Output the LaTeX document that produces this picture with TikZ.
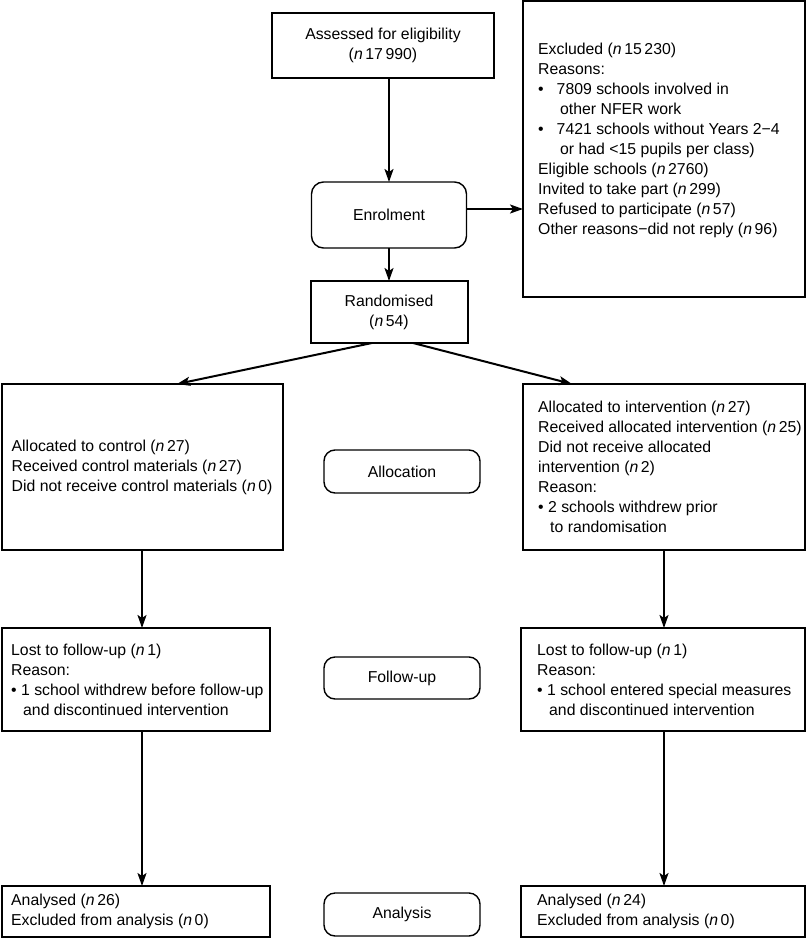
\documentclass[tikz,border=0pt]{standalone}
\usepackage{fontspec}
\setmainfont{Liberation Sans}
\usetikzlibrary{arrows.meta}
\usetikzlibrary{calc}
\newcommand{\flwfnt}{\fontsize{15.8}{20}\selectfont}
\newcommand{\flwn}{\textit{n}\,}
\newcommand{\flwind}{\hspace*{12pt}}
\newcommand{\flwbul}{\textbullet\hspace{13pt}}
\newcommand{\flwindw}{\hspace*{22pt}}
\newcommand{\flwcxl}{142}
\newcommand{\flwcxm}{402}
\newcommand{\flwcxr}{664}
\newcommand{\flwcxt}{389}
\newcommand{\flwrya}{467}
\newcommand{\flwryb}{679.5}
\newcommand{\flwryc}{911.5}

\begin{document}
\begin{tikzpicture}[x=1pt,y=-1pt,font=\flwfnt,
    flwbox/.style={draw,line width=2pt,inner sep=0pt,outer sep=0pt},
    flwstage/.style={draw,line width=1.4pt,rounded corners=11pt,
      inner sep=0pt,outer sep=0pt,minimum width=156pt},
    flwtxt/.style={align=left,inner sep=0pt,anchor=west},
    flwarr/.style={-{Stealth[length=13pt,width=9pt,inset=3pt]},line width=2pt}]
    \useasboundingbox (0,0) rectangle (807,939);

    \node (assess) [flwbox,minimum width=222pt,minimum height=65pt,align=center]
      at (383,45.5) {Assessed for eligibility\\(\flwn17\,990)};
    \node (excl) [flwbox,minimum width=282pt,minimum height=296pt] at (\flwcxr,149) {};
    \node (excltxt) [flwtxt] at ($(excl.west)+(15,-9)$) {Excluded (\flwn15\,230)\\
      Reasons:\\
      \flwbul 7809 schools involved in\\
      \flwindw other NFER work\\
      \flwbul 7421 schools without Years 2−4\\
      \flwindw or had <15 pupils per class)\\
      Eligible schools (\flwn2760)\\
      Invited to take part (\flwn299)\\
      Refused to participate (\flwn57)\\
      Other reasons−did not reply (\flwn96)};
    \node (enrol) [flwstage,minimum width=155pt,minimum height=66pt,rounded corners=12pt]
      at (\flwcxt,215) {Enrolment};
    \node (rand) [flwbox,minimum width=157pt,minimum height=62pt,align=center]
      at (\flwcxt,312) {Randomised\\(\flwn54)};

    \node (ctrl) [flwbox,minimum width=281pt,minimum height=166pt] at (\flwcxl,\flwrya) {};
    \node (ctrltxt) [flwtxt] at ($(ctrl.west)+(10,0)$) {Allocated to control (\flwn27)\\
      Received control materials (\flwn27)\\
      Did not receive control materials (\flwn0)};
    \node (alloc) [flwstage,minimum height=43pt] at (\flwcxm,471.5) {Allocation};
    \node (intv) [flwbox,minimum width=282pt,minimum height=166pt] at (\flwcxr,\flwrya) {};
    \node (intvtxt) [flwtxt] at ($(intv.west)+(15,0)$) {Allocated to intervention (\flwn27)\\
      Received allocated intervention (\flwn25)\\
      Did not receive allocated\\
      intervention (\flwn2)\\
      Reason:\\
      \textbullet\ 2 schools withdrew prior\\
      \flwind to randomisation};

    \node (lostc) [flwbox,minimum width=268pt,minimum height=103pt] at (136,\flwryb) {};
    \node (lostctxt) [flwtxt] at ($(lostc.west)+(9,0)$) {Lost to follow-up (\flwn1)\\
      Reason:\\
      \textbullet\ 1 school withdrew before follow-up\\
      \flwind and discontinued intervention};
    \node (follow) [flwstage,minimum height=42pt] at (\flwcxm,678) {Follow-up};
    \node (losti) [flwbox,minimum width=284pt,minimum height=103pt] at (663,\flwryb) {};
    \node (lostitxt) [flwtxt] at ($(losti.west)+(16,0)$) {Lost to follow-up (\flwn1)\\
      Reason:\\
      \textbullet\ 1 school entered special measures\\
      \flwind and discontinued intervention};

    \node (anac) [flwbox,minimum width=268pt,minimum height=51pt] at (136,\flwryc) {};
    \node (anactxt) [flwtxt] at ($(anac.west)+(9,0)$) {Analysed (\flwn26)\\
      Excluded from analysis (\flwn0)};
    \node (analysis) [flwstage,minimum height=43pt] at (\flwcxm,914.5) {Analysis};
    \node (anai) [flwbox,minimum width=284pt,minimum height=51pt] at (663,\flwryc) {};
    \node (anaitxt) [flwtxt] at ($(anai.west)+(16,0)$) {Analysed (\flwn24)\\
      Excluded from analysis (\flwn0)};

    \draw[flwarr] (enrol.north |- assess.south) -- (enrol.north);
    \draw[flwarr] ([yshift=6pt]enrol.east) -- ([yshift=6pt]enrol.east -| excl.west);
    \draw[flwarr] ([xshift=-17pt]rand.south) -- ([xshift=35pt]ctrl.north);
    \draw[flwarr] (enrol.south) -- (rand.north);
    \draw[flwarr] ([xshift=24pt]rand.south) -- ([xshift=-92pt]intv.north);
    \draw[flwarr] (ctrl.south) -- (ctrl.south |- lostc.north);
    \draw[flwarr] (intv.south) -- (intv.south |- losti.north);
    \draw[flwarr] (lostc.south -| ctrl.south) -- (ctrl.south |- anac.north);
    \draw[flwarr] (losti.south -| intv.south) -- (intv.south |- anai.north);
\end{tikzpicture}
\end{document}
